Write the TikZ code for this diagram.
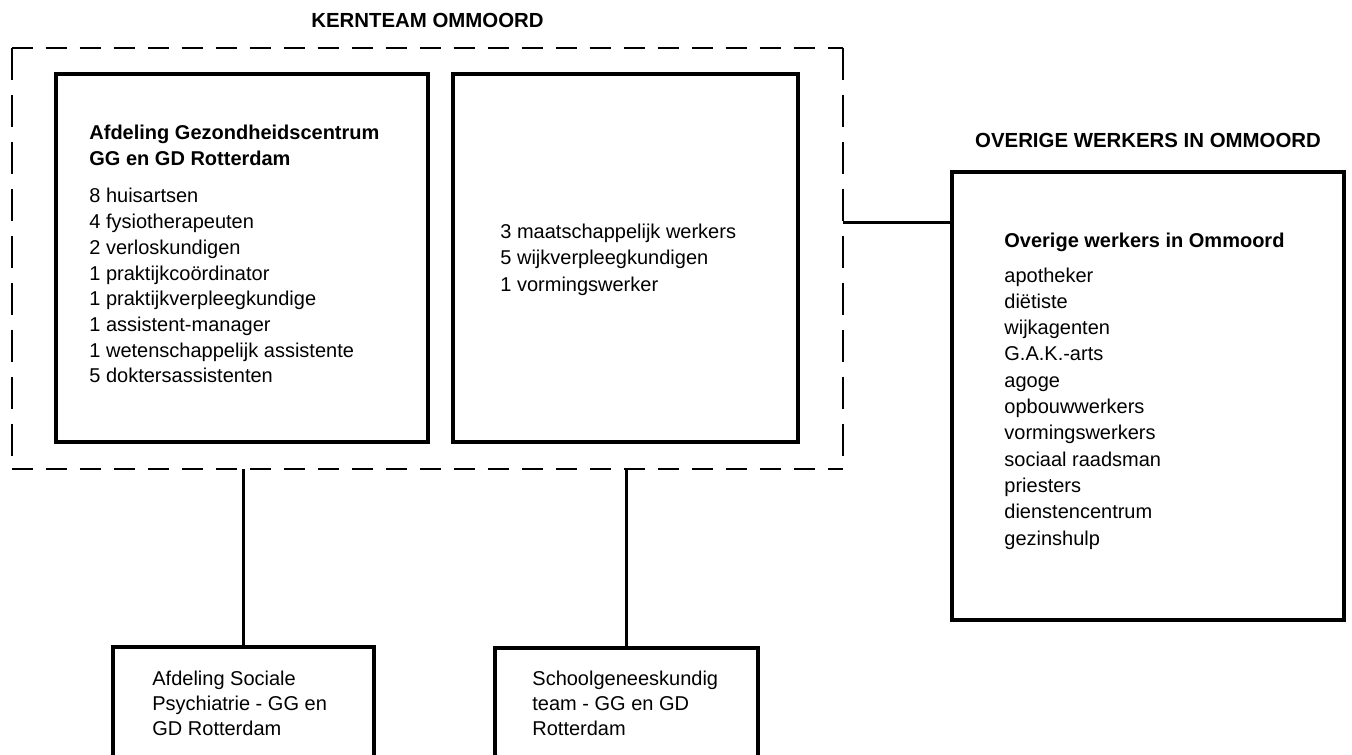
\documentclass[tikz,border=0pt]{standalone}
\usepackage{fontspec}
\setmainfont{Liberation Sans}
\newcommand\Stk[2]{\vtop{\baselineskip=#1\lineskiplimit=-100pt\lineskip=0pt #2}}
\newcommand\Li[1]{\hbox{#1}}
\tikzset{
  boxnode/.style={draw, rectangle, line width=1.6pt, inner sep=0pt},
  kernbox/.style={rectangle, inner sep=0pt},
  dashh/.style={line width=1pt, dash pattern=on 10.5pt off 6.5pt},
  dashv/.style={line width=1pt, dash pattern=on 16pt off 7.5pt},
  conn/.style={line width=1.5pt},
  txt/.style={inner sep=0pt, anchor=base west, font=\fontsize{10pt}{13pt}\selectfont},
  ttl/.style={inner sep=0pt, anchor=base, font=\bfseries\fontsize{10.2pt}{13pt}\selectfont}
}
\begin{document}
\begin{tikzpicture}[x=0.5pt,y=-0.5pt]
\useasboundingbox (0,0) rectangle (1352,754);
\clip (0,0) rectangle (1352,754);

% titles
\node[ttl] (kt) at (427.5,28) {KERNTEAM OMMOORD};
\node[ttl] (ot) at (1148,148) {OVERIGE WERKERS IN OMMOORD};

% dashed kernteam frame
\node[kernbox, minimum width=415.5pt, minimum height=210.5pt] (kern) at (427.5,258.5) {};
\draw[dashh] (kern.north west) -- (kern.north east);
\draw[dashh] (kern.south west) -- (kern.south east);
\draw[dashv] (kern.north west) -- (kern.south west);
\draw[dashv] (kern.north east) -- (kern.south east);

% boxes
\node[boxnode, minimum width=186pt, minimum height=184pt] (b1) at (242,258) {};
\node[boxnode, minimum width=172.5pt, minimum height=184pt] (b2) at (625.5,258) {};
\node[boxnode, minimum width=196pt, minimum height=224pt] (ov) at (1148,396) {};
\node[boxnode, minimum width=130.5pt, minimum height=76.5pt] (bb1) at (243.5,723.5) {};
\node[boxnode, minimum width=131.5pt, minimum height=76pt] (bb2) at (626.5,724) {};

% texts box 1
\node[txt, font=\bfseries\fontsize{10pt}{13pt}\selectfont] (t1) at (89,140)
  {\Stk{13pt}{\Li{Afdeling Gezondheidscentrum}\Li{GG en GD Rotterdam}}};
\node[txt] (l1) at (89,203)
  {\Stk{12.85pt}{\Li{8 huisartsen}\Li{4 fysiotherapeuten}\Li{2 verloskundigen}\Li{1 praktijkcoördinator}\Li{1 praktijkverpleegkundige}\Li{1 assistent-manager}\Li{1 wetenschappelijk assistente}\Li{5 doktersassistenten}}};

% texts box 2
\node[txt] (l2) at (500,238)
  {\Stk{13.25pt}{\Li{3 maatschappelijk werkers}\Li{5 wijkverpleegkundigen}\Li{1 vormingswerker}}};

% texts overige
\node[txt, font=\bfseries\fontsize{10pt}{13pt}\selectfont] (t3) at (1004,247) {Overige werkers in Ommoord};
\node[txt] (l3) at (1004,282)
  {\Stk{13.15pt}{\Li{apotheker}\Li{diëtiste}\Li{wijkagenten}\Li{G.A.K.-arts}\Li{agoge}\Li{opbouwwerkers}\Li{vormingswerkers}\Li{sociaal raadsman}\Li{priesters}\Li{dienstencentrum}\Li{gezinshulp}}};

% bottom box texts
\node[txt] (l4) at (152,685)
  {\Stk{12.5pt}{\Li{Afdeling Sociale}\Li{Psychiatrie - GG en}\Li{GD Rotterdam}}};
\node[txt] (l5) at (532,685)
  {\Stk{12.5pt}{\Li{Schoolgeneeskundig}\Li{team - GG en GD}\Li{Rotterdam}}};

% connectors
\coordinate (hc) at (843,222);
\draw[conn] (hc) -- (hc -| ov.west);
\draw[conn] (kern.south -| bb1.north) -- (bb1.north);
\draw[conn] (kern.south -| bb2.north) -- (bb2.north);
\end{tikzpicture}
\end{document}
